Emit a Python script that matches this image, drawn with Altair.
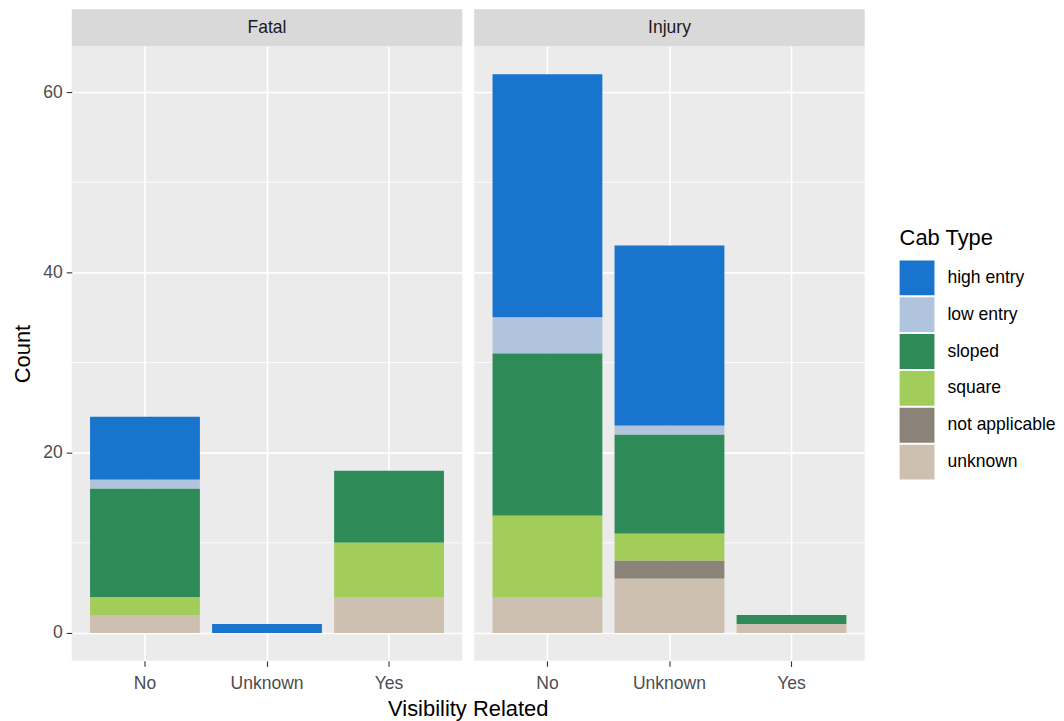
import altair as alt
import pandas as pd

# ---- data ----
panels = ["Fatal", "Injury"]
visibility = ["No", "Unknown", "Yes"]
cab_types = ["high entry", "low entry", "sloped", "square", "not applicable", "unknown"]
cab_colors = ["#1874CD", "#B0C4DE", "#2E8B57", "#A2CD5A", "#8B8378", "#CDC0B0"]

# counts per cab type for visibility No / Unknown / Yes
fatal_high_entry = [7, 1, 0]
fatal_low_entry = [1, 0, 0]
fatal_sloped = [12, 0, 8]
fatal_square = [2, 0, 6]
fatal_not_applicable = [0, 0, 0]
fatal_unknown = [2, 0, 4]

injury_high_entry = [27, 20, 0]
injury_low_entry = [4, 1, 0]
injury_sloped = [18, 11, 1]
injury_square = [9, 3, 0]
injury_not_applicable = [0, 2, 0]
injury_unknown = [4, 6, 1]

minor_breaks = [10, 30, 50]
major_breaks = [0, 20, 40, 60]

fatal = [fatal_high_entry, fatal_low_entry, fatal_sloped, fatal_square,
         fatal_not_applicable, fatal_unknown]
injury = [injury_high_entry, injury_low_entry, injury_sloped, injury_square,
          injury_not_applicable, injury_unknown]

rows = []
for pname, table in zip(panels, [fatal, injury]):
    for ci, (cab, vals) in enumerate(zip(cab_types, table)):
        for v, n in zip(visibility, vals):
            if n > 0:
                rows.append({"panel": pname, "vis": v, "cab": cab, "n": n,
                             "ord": len(cab_types) - 1 - ci})
df = pd.DataFrame(rows)

W = 392
H = 617
STRIP = 37
FONT = "Liberation Sans"


def panel(pname, first):
    d = df[df["panel"] == pname]
    if first:
        yaxis = alt.Axis(values=major_breaks, title="Count", grid=True,
                         gridColor="white", gridWidth=1.6, domain=False,
                         tickColor="#333333", tickSize=5.5, tickWidth=1.1,
                         labelFontSize=17.6, labelColor="#4D4D4D", labelPadding=4,
                         titleFontSize=22, titleColor="black",
                         titleFontWeight="normal", titlePadding=8)
    else:
        yaxis = alt.Axis(values=major_breaks, title=None, grid=True,
                         gridColor="white", gridWidth=1.6, domain=False,
                         ticks=False, labels=False)
    xaxis = alt.Axis(title=None, grid=True, gridColor="white", gridWidth=1.6,
                     bandPosition=0.5, domain=False, tickColor="#333333",
                     tickSize=5.5, tickWidth=1.1, labelFontSize=17.6,
                     labelColor="#4D4D4D", labelPadding=8, labelAngle=0)
    yscale = alt.Scale(domain=[-3.1, 65.1], nice=False, zero=False)
    xscale = alt.Scale(domain=visibility, paddingInner=0.1, paddingOuter=0.15)

    minor = alt.Chart(pd.DataFrame({"b": minor_breaks})).mark_rule(
        color="white", strokeWidth=0.8
    ).encode(y=alt.Y("b:Q", scale=yscale, axis=yaxis))

    bars = alt.Chart(d).mark_bar().encode(
        x=alt.X("vis:N", scale=xscale, axis=xaxis, sort=visibility),
        y=alt.Y("sum(n):Q", scale=yscale, axis=yaxis, stack="zero"),
        color=alt.Color("cab:N", scale=alt.Scale(domain=cab_types, range=cab_colors),
                        title="Cab Type",
                        legend=alt.Legend(orient="none", legendX=831, legendY=183)),
        order=alt.Order("ord:Q", sort="ascending"),
    )

    strip_df = pd.DataFrame({"p": [pname]})
    strip = alt.Chart(strip_df).mark_rect(color="#D9D9D9").encode(
        x=alt.value(0), x2=alt.value(W), y=alt.value(-STRIP), y2=alt.value(0)
    )
    strip_text = alt.Chart(strip_df).mark_text(
        fontSize=17.6, color="#1A1A1A", font=FONT, baseline="middle"
    ).encode(text="p:N", x=alt.value(W / 2), y=alt.value(-STRIP / 2))

    layers = [minor, bars, strip, strip_text]
    if first:
        xt = alt.Chart(pd.DataFrame({"t": ["Visibility Related"]})).mark_text(
            fontSize=22, color="black", font=FONT, baseline="middle"
        ).encode(text="t:N", x=alt.value(W + 6), y=alt.value(H + 48))
        layers.append(xt)
    return alt.layer(*layers).properties(width=W, height=H)


chart = alt.hconcat(
    panel("Fatal", True), panel("Injury", False), spacing=12, bounds="flush"
).properties(
    padding={"left": 3, "top": 0, "right": 0, "bottom": 0}
).configure(font=FONT).configure_view(fill="#EBEBEB", strokeWidth=0).configure_legend(
    titleFontSize=22, titleColor="black", titleFontWeight="normal", titlePadding=10,
    labelFontSize=17.6, labelColor="black", labelOffset=13,
    symbolType="square", symbolSize=1225, symbolStrokeWidth=0, symbolOpacity=1,
    rowPadding=2, padding=0,
)

chart.save("out.html", embed_options={"renderer": "svg", "actions": False})
